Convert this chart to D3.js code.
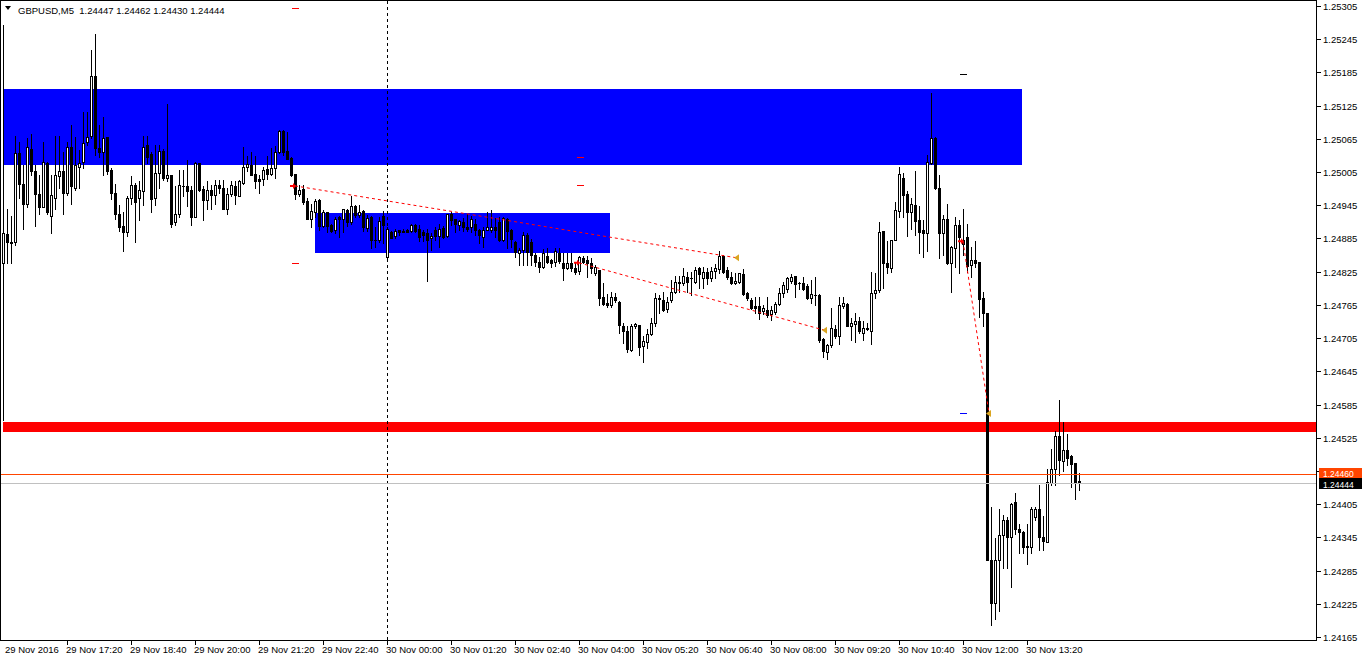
<!DOCTYPE html>
<html><head><meta charset="utf-8">
<script src="https://cdn.jsdelivr.net/npm/d3@7"></script>
<style>html,body{margin:0;padding:0;background:#fff;overflow:hidden}svg{display:block}</style>
</head><body><svg id="c" width="1362" height="661"></svg>
<script>
// ---- DATA ----
const symbolTitle = "GBPUSD,M5  1.24447 1.24462 1.24430 1.24444";
const opens=[1.24840,1.24893,1.24879,1.24878,1.25040,1.24983,1.24948,1.25047,1.25007,1.24965,
1.24942,1.25022,1.24926,1.24959,1.24998,1.25007,1.24968,1.25050,1.24977,1.25015,
1.25023,1.25059,1.25070,1.25179,1.25048,1.25041,1.25068,1.25009,1.24968,1.24930,
1.24908,1.24896,1.24958,1.24982,1.24958,1.24971,1.25054,1.25037,1.24958,1.25003,
1.25043,1.24994,1.25000,1.24914,1.24929,1.24980,1.24980,1.24973,1.24924,1.25021,
1.24974,1.24954,1.24973,1.24964,1.24982,1.24977,1.24939,1.24965,1.24980,1.24962,
1.24986,1.25014,1.25018,1.25001,1.24992,1.24992,1.25010,1.25001,1.25012,1.25041,
1.25079,1.25043,1.25031,1.25001,1.24965,1.24974,1.24953,1.24920,1.24933,1.24954,
1.24907,1.24932,1.24909,1.24900,1.24924,1.24920,1.24936,1.24915,1.24944,1.24927,
1.24935,1.24904,1.24924,1.24883,1.24882,1.24926,1.24852,1.24896,1.24890,1.24900,
1.24897,1.24901,1.24898,1.24910,1.24903,1.24897,1.24894,1.24885,1.24901,1.24889,
1.24904,1.24889,1.24929,1.24920,1.24910,1.24915,1.24906,1.24906,1.24912,1.24901,
1.24888,1.24901,1.24900,1.24906,1.24915,1.24882,1.24921,1.24900,1.24879,1.24858,
1.24864,1.24892,1.24879,1.24855,1.24843,1.24834,1.24854,1.24846,1.24843,1.24858,
1.24840,1.24831,1.24840,1.24832,1.24826,1.24849,1.24846,1.24840,1.24822,1.24828,
1.24780,1.24768,1.24764,1.24780,1.24771,1.24727,1.24718,1.24683,1.24726,1.24729,
1.24691,1.24698,1.24712,1.24732,1.24776,1.24774,1.24758,1.24774,1.24789,1.24804,
1.24804,1.24816,1.24813,1.24806,1.24831,1.24813,1.24825,1.24813,1.24826,1.24829,
1.24853,1.24828,1.24816,1.24804,1.24807,1.24821,1.24787,1.24774,1.24763,1.24763,
1.24754,1.24756,1.24748,1.24753,1.24767,1.24786,1.24793,1.24809,1.24817,1.24804,
1.24804,1.24799,1.24777,1.24782,1.24783,1.24704,1.24680,1.24692,1.24721,1.24709,
1.24763,1.24767,1.24727,1.24730,1.24736,1.24714,1.24723,1.24718,1.24787,1.24792,
1.24898,1.24841,1.24831,1.24883,1.24935,1.24995,1.24965,1.24933,1.24945,1.24918,
1.24900,1.24895,1.25022,1.25066,1.24976,1.24895,1.24920,1.24841,1.24867,1.24909,
1.24883,1.24888,1.24837,1.24847,1.24843,1.24777,1.24750,1.24304,1.24226,1.24304,
1.24349,1.24377,1.24346,1.24408,1.24361,1.24355,1.24329,1.24328,1.24381,1.24397,
1.24346,1.24337,1.24444,1.24469,1.24528,1.24483,1.24503,1.24492,1.24480,1.24447];
const highs=[1.25271,1.24939,1.24926,1.25071,1.25060,1.25018,1.25066,1.25074,1.25018,1.25000,
1.25060,1.25024,1.25000,1.25070,1.25070,1.25042,1.25060,1.25090,1.25069,1.25045,
1.25114,1.25114,1.25226,1.25254,1.25090,1.25105,1.25069,1.25012,1.24983,1.24945,
1.24933,1.24961,1.24998,1.24985,1.24988,1.25070,1.25070,1.25042,1.25054,1.25054,
1.25047,1.25128,1.25000,1.24980,1.25009,1.25009,1.25027,1.24979,1.25024,1.25022,
1.24979,1.24989,1.24982,1.24991,1.24991,1.24991,1.24976,1.24988,1.24988,1.24991,
1.25051,1.25034,1.25042,1.25034,1.25000,1.25015,1.25034,1.25048,1.25052,1.25081,
1.25081,1.25078,1.25033,1.25001,1.24982,1.24982,1.24959,1.24948,1.24957,1.24957,
1.24936,1.24933,1.24912,1.24923,1.24926,1.24939,1.24938,1.24962,1.24945,1.24945,
1.24936,1.24927,1.24926,1.24906,1.24924,1.24935,1.24905,1.24898,1.24902,1.24900,
1.24903,1.24903,1.24912,1.24912,1.24910,1.24900,1.24903,1.24894,1.24906,1.24912,
1.24908,1.24930,1.24933,1.24921,1.24918,1.24922,1.24930,1.24926,1.24921,1.24903,
1.24906,1.24933,1.24936,1.24922,1.24924,1.24924,1.24922,1.24903,1.24880,1.24868,
1.24896,1.24894,1.24884,1.24858,1.24852,1.24866,1.24867,1.24848,1.24867,1.24867,
1.24858,1.24858,1.24858,1.24840,1.24854,1.24854,1.24854,1.24849,1.24837,1.24828,
1.24804,1.24784,1.24789,1.24786,1.24772,1.24732,1.24726,1.24730,1.24732,1.24729,
1.24708,1.24721,1.24741,1.24786,1.24783,1.24789,1.24780,1.24810,1.24818,1.24818,
1.24832,1.24824,1.24824,1.24834,1.24834,1.24834,1.24831,1.24834,1.24838,1.24863,
1.24855,1.24834,1.24825,1.24822,1.24823,1.24829,1.24789,1.24777,1.24780,1.24779,
1.24765,1.24779,1.24763,1.24771,1.24795,1.24807,1.24815,1.24821,1.24817,1.24807,
1.24816,1.24803,1.24810,1.24816,1.24785,1.24706,1.24695,1.24760,1.24729,1.24780,
1.24780,1.24768,1.24741,1.24750,1.24744,1.24736,1.24732,1.24825,1.24822,1.24915,
1.24898,1.24881,1.24883,1.24951,1.25014,1.25003,1.24970,1.24958,1.25006,1.24944,
1.24918,1.25036,1.25147,1.25069,1.25000,1.24927,1.24947,1.24871,1.24924,1.24918,
1.24938,1.24912,1.24870,1.24881,1.24843,1.24789,1.24750,1.24400,1.24343,1.24397,
1.24385,1.24382,1.24407,1.24426,1.24370,1.24357,1.24370,1.24400,1.24400,1.24439,
1.24383,1.24468,1.24504,1.24538,1.24593,1.24554,1.24532,1.24494,1.24480,1.24462];
const lows=[1.24557,1.24840,1.24840,1.24873,1.24958,1.24903,1.24942,1.25000,1.24908,1.24930,
1.24941,1.24930,1.24894,1.24939,1.24976,1.24929,1.24964,1.24948,1.24973,1.24977,
1.25012,1.25054,1.25066,1.25036,1.25033,1.25000,1.25001,1.24956,1.24920,1.24898,
1.24863,1.24890,1.24947,1.24879,1.24918,1.24945,1.25021,1.24933,1.24945,1.24976,
1.24991,1.24988,1.24906,1.24909,1.24923,1.24961,1.24944,1.24909,1.24924,1.24971,
1.24918,1.24938,1.24938,1.24947,1.24968,1.24938,1.24929,1.24961,1.24947,1.24962,
1.24983,1.25007,1.25000,1.24976,1.24968,1.24982,1.24992,1.25000,1.24994,1.25039,
1.25036,1.25028,1.24998,1.24956,1.24961,1.24948,1.24920,1.24905,1.24924,1.24901,
1.24905,1.24897,1.24897,1.24895,1.24888,1.24897,1.24907,1.24912,1.24924,1.24924,
1.24898,1.24898,1.24868,1.24870,1.24879,1.24876,1.24850,1.24885,1.24886,1.24892,
1.24897,1.24897,1.24897,1.24896,1.24880,1.24880,1.24808,1.24864,1.24882,1.24870,
1.24885,1.24888,1.24910,1.24896,1.24900,1.24898,1.24898,1.24897,1.24892,1.24876,
1.24870,1.24900,1.24897,1.24888,1.24880,1.24880,1.24867,1.24870,1.24852,1.24837,
1.24837,1.24837,1.24837,1.24836,1.24824,1.24831,1.24840,1.24834,1.24836,1.24840,
1.24810,1.24829,1.24826,1.24820,1.24820,1.24840,1.24816,1.24822,1.24819,1.24765,
1.24765,1.24762,1.24762,1.24771,1.24714,1.24697,1.24679,1.24682,1.24724,1.24674,
1.24661,1.24688,1.24711,1.24726,1.24750,1.24754,1.24753,1.24771,1.24786,1.24788,
1.24801,1.24788,1.24782,1.24804,1.24795,1.24795,1.24802,1.24808,1.24813,1.24822,
1.24823,1.24811,1.24803,1.24803,1.24805,1.24783,1.24774,1.24757,1.24750,1.24739,
1.24748,1.24744,1.24738,1.24748,1.24765,1.24779,1.24789,1.24805,1.24780,1.24793,
1.24792,1.24775,1.24769,1.24765,1.24698,1.24671,1.24667,1.24689,1.24706,1.24695,
1.24760,1.24726,1.24701,1.24698,1.24715,1.24701,1.24720,1.24695,1.24777,1.24789,
1.24795,1.24822,1.24825,1.24882,1.24924,1.24923,1.24889,1.24903,1.24891,1.24859,
1.24852,1.24863,1.25020,1.24974,1.24849,1.24855,1.24839,1.24789,1.24834,1.24823,
1.24855,1.24825,1.24816,1.24833,1.24744,1.24726,1.24304,1.24186,1.24198,1.24212,
1.24289,1.24289,1.24256,1.24351,1.24317,1.24316,1.24297,1.24317,1.24377,1.24323,
1.24323,1.24337,1.24439,1.24439,1.24457,1.24465,1.24476,1.24436,1.24415,1.24430];
const closes=[1.24894,1.24878,1.24876,1.25039,1.24983,1.24948,1.25050,1.25007,1.24965,1.24942,
1.25023,1.24933,1.24964,1.25000,1.25007,1.24968,1.25050,1.24979,1.25018,1.25021,
1.25057,1.25069,1.25179,1.25048,1.25041,1.25066,1.25007,1.24968,1.24929,1.24906,
1.24896,1.24959,1.24982,1.24951,1.24973,1.25051,1.25033,1.24956,1.25003,1.25043,
1.24994,1.25000,1.24911,1.24929,1.24982,1.24980,1.24971,1.24924,1.25021,1.24973,
1.24954,1.24973,1.24964,1.24982,1.24976,1.24939,1.24965,1.24982,1.24964,1.24989,
1.25014,1.25019,1.25000,1.24989,1.24988,1.25009,1.25001,1.25012,1.25041,1.25079,
1.25042,1.25028,1.25000,1.24965,1.24973,1.24951,1.24920,1.24935,1.24953,1.24907,
1.24932,1.24907,1.24898,1.24921,1.24920,1.24938,1.24915,1.24944,1.24927,1.24933,
1.24906,1.24922,1.24882,1.24882,1.24916,1.24910,1.24903,1.24886,1.24898,1.24897,
1.24899,1.24897,1.24910,1.24898,1.24888,1.24891,1.24882,1.24889,1.24889,1.24903,
1.24888,1.24929,1.24918,1.24912,1.24916,1.24906,1.24902,1.24921,1.24900,1.24892,
1.24901,1.24906,1.24905,1.24900,1.24882,1.24922,1.24898,1.24884,1.24861,1.24864,
1.24892,1.24860,1.24855,1.24843,1.24834,1.24858,1.24842,1.24840,1.24862,1.24844,
1.24831,1.24840,1.24831,1.24825,1.24852,1.24842,1.24840,1.24831,1.24834,1.24778,
1.24766,1.24764,1.24780,1.24773,1.24729,1.24718,1.24686,1.24727,1.24730,1.24689,
1.24700,1.24712,1.24732,1.24777,1.24777,1.24756,1.24770,1.24789,1.24807,1.24807,
1.24818,1.24807,1.24813,1.24828,1.24820,1.24825,1.24813,1.24826,1.24831,1.24853,
1.24825,1.24815,1.24805,1.24809,1.24822,1.24785,1.24777,1.24760,1.24760,1.24750,
1.24759,1.24747,1.24756,1.24767,1.24786,1.24801,1.24813,1.24816,1.24803,1.24804,
1.24794,1.24777,1.24785,1.24782,1.24701,1.24682,1.24692,1.24723,1.24709,1.24765,
1.24768,1.24727,1.24733,1.24736,1.24717,1.24724,1.24722,1.24786,1.24792,1.24897,
1.24841,1.24833,1.24882,1.24936,1.25001,1.24964,1.24933,1.24947,1.24917,1.24897,
1.24895,1.25024,1.25066,1.24976,1.24895,1.24920,1.24841,1.24869,1.24909,1.24888,
1.24875,1.24835,1.24847,1.24840,1.24775,1.24750,1.24304,1.24227,1.24304,1.24349,
1.24376,1.24346,1.24406,1.24361,1.24355,1.24327,1.24327,1.24397,1.24397,1.24345,
1.24339,1.24445,1.24469,1.24528,1.24485,1.24503,1.24489,1.24477,1.24445,1.24444];

const timeLabels=["29 Nov 2016","29 Nov 17:20","29 Nov 18:40","29 Nov 20:00","29 Nov 21:20","29 Nov 22:40",
"30 Nov 00:00","30 Nov 01:20","30 Nov 02:40","30 Nov 04:00","30 Nov 05:20","30 Nov 06:40",
"30 Nov 08:00","30 Nov 09:20","30 Nov 10:40","30 Nov 12:00","30 Nov 13:20"];
const timeLabelBars=[0,16,32,48,64,80,96,112,128,144,160,176,192,208,224,240,256];
const separatorBars=[96];
// 1.24465 is hidden behind the price tags in the reference
const priceTicks=[1.25305,1.25245,1.25185,1.25125,1.25065,1.25005,1.24945,1.24885,1.24825,1.24765,
1.24705,1.24645,1.24585,1.24525,1.24465,1.24405,1.24345,1.24285,1.24225,1.24165];
const hiddenTickLabels=[1.24465];

// rectangles (bar index range, price range)
const zoneFromBar=[0,78,0];
const zoneToBar=[254.75,151.75,null];
const zoneHigh=[1.25155,1.24931,1.24553];
const zoneLow=[1.25018,1.24858,1.24535];
// trade arrows & lines
const entryBar=[72.5,143.5,239.5];
const entryPrice=[1.24980,1.24841,1.24880];
const exitBar=[183.5,205.5,246.5];
const exitPrice=[1.24850,1.24719,1.24569];
// small level marks
const markBar=[73,73,144.25,144.25,240,240];
const markPrice=[1.25301,1.24841,1.25032,1.24982,1.25182,1.24570];
const askPrice=1.24460, bidPrice=1.24444;

// ---- DRAW ----
const W=1362,H=661, plotR=1316, plotB=640;
const svg=d3.select("#c");
const font="'Liberation Sans', Arial, sans-serif";
const x=d3.scaleLinear().domain([0,269]).range([3,1079]);
const y=d3.scaleLinear().domain([1.24165,1.25305]).range([637,6]);
const Y=p=>Math.round(y(p));
const X=i=>Math.round(x(i));

svg.append("rect").attr("width",W).attr("height",H).attr("fill","#fff");
const plot=svg.append("g");
svg.append("clipPath").attr("id","pc").append("rect").attr("x",1).attr("y",1).attr("width",plotR-1).attr("height",plotB-1);
plot.attr("clip-path","url(#pc)").attr("shape-rendering","crispEdges");

// zones
const zoneColors=["#0000ff","#0000ff","#ff0000"];
zoneHigh.forEach((h,k)=>{
  const x0=x(zoneFromBar[k])-0.5;
  const x1=zoneToBar[k]===null?plotR:x(zoneToBar[k]);
  plot.append("rect").attr("x",x0).attr("y",y(h)).attr("width",x1-x0).attr("height",y(zoneLow[k])-y(h)).attr("fill",zoneColors[k]);
});

// separator
separatorBars.forEach(b=>{
  plot.append("line").attr("x1",X(b)+0.5).attr("x2",X(b)+0.5).attr("y1",1).attr("y2",plotB)
   .attr("stroke","#000").attr("stroke-width",1).attr("stroke-dasharray","3,3");
});

// candles
const cg=plot.append("g");
opens.forEach((o,i)=>{
  const c=closes[i], cx=X(i);
  const yh=Y(highs[i]), yl=Y(lows[i]), yo=Y(o), yc=Y(c);
  cg.append("rect").attr("x",cx).attr("y",yh).attr("width",1).attr("height",Math.max(1,yl-yh+1)).attr("fill","#000");
  const top=Math.min(yo,yc), bot=Math.max(yo,yc);
  cg.append("rect").attr("x",cx-1).attr("y",top).attr("width",3).attr("height",bot-top+1).attr("fill","#000");
  if(c>o && bot-top>=2){
    cg.append("rect").attr("x",cx).attr("y",top+1).attr("width",1).attr("height",bot-top-1).attr("fill","#fff");
  }
});

// trade lines
entryBar.forEach((b,k)=>{
  plot.append("line").attr("x1",x(b)+2).attr("y1",y(entryPrice[k])).attr("x2",x(exitBar[k])).attr("y2",y(exitPrice[k]))
   .attr("stroke","#ff0000").attr("stroke-width",1).attr("stroke-dasharray","3,3").attr("shape-rendering","auto");
});
// entry arrows (red, pointing right)
entryBar.forEach((b,k)=>{
  const ax=x(b), ay=y(entryPrice[k]);
  plot.append("path").attr("d",`M${ax-3},${ay-1}L${ax},${ay-1}L${ax},${ay-3}L${ax+3},${ay}L${ax},${ay+3}L${ax},${ay+1}L${ax-3},${ay+1}Z`)
   .attr("fill","#ff0000").attr("shape-rendering","auto");
});
// exit triangles (goldenrod, pointing left)
exitBar.forEach((b,k)=>{
  const ax=x(b), ay=y(exitPrice[k]);
  plot.append("path").attr("d",`M${ax-3},${ay}L${ax+2},${ay-3.5}L${ax+2},${ay+3.5}Z`)
   .attr("fill","#daa520").attr("shape-rendering","auto");
});
// level marks
const markColors=["#ff0000","#ff0000","#ff0000","#ff0000","#000000","#0000ff"];
markBar.forEach((b,k)=>{
  plot.append("rect").attr("x",Math.round(x(b))-3).attr("y",Y(markPrice[k])).attr("width",7).attr("height",1).attr("fill",markColors[k]);
});

// ask/bid lines
plot.append("rect").attr("x",1).attr("y",Y(askPrice)).attr("width",plotR).attr("height",1).attr("fill","#ff4500");
plot.append("rect").attr("x",1).attr("y",Y(bidPrice)).attr("width",plotR).attr("height",1).attr("fill","#c0c0c0");

// frame
svg.append("rect").attr("x",0.5).attr("y",0.5).attr("width",plotR).attr("height",plotB).attr("fill","none").attr("stroke","#000").attr("shape-rendering","crispEdges");

// right axis
const ra=svg.append("g").attr("shape-rendering","crispEdges");
priceTicks.forEach(p=>{
  const yy=Y(p);
  ra.append("rect").attr("x",plotR+1).attr("y",yy).attr("width",4).attr("height",1).attr("fill","#000");
  if(hiddenTickLabels.indexOf(p)<0)
    ra.append("text").attr("x",plotR+7).attr("y",yy+3.5).attr("font-family",font).attr("font-size","9.5px").attr("fill","#000").text(p.toFixed(5));
});
// price tags
function tag(p,bg,top,h){
  ra.append("rect").attr("x",plotR+3).attr("y",top).attr("width",W-plotR-3).attr("height",h).attr("fill",bg);
  ra.append("text").attr("x",plotR+7).attr("y",top+h-1.5).attr("font-family",font).attr("font-size","8.5px").attr("fill","#fff").text(p.toFixed(5));
}
tag(askPrice,"#ff4500",Y(askPrice)-6,10);
tag(bidPrice,"#000000",Y(bidPrice)-5,11);

// bottom axis
const ba=svg.append("g").attr("shape-rendering","crispEdges");
timeLabels.forEach((t,k)=>{
  const xx=X(timeLabelBars[k]);
  if(k>0) ba.append("rect").attr("x",xx).attr("y",plotB+1).attr("width",1).attr("height",4).attr("fill","#000");
  ba.append("text").attr("x",k===0?xx+2:xx-1).attr("y",plotB+13).attr("font-family",font).attr("font-size","9.5px").attr("fill","#000").text(t);
});

// title
svg.append("path").attr("d","M5,6L11,6L8,10Z").attr("fill","#000");
svg.append("text").attr("x",18).attr("y",14).attr("font-family",font).attr("font-size","9.5px").attr("fill","#000")
  .attr("xml:space","preserve").style("white-space","pre").text(symbolTitle);
</script></body></html>
